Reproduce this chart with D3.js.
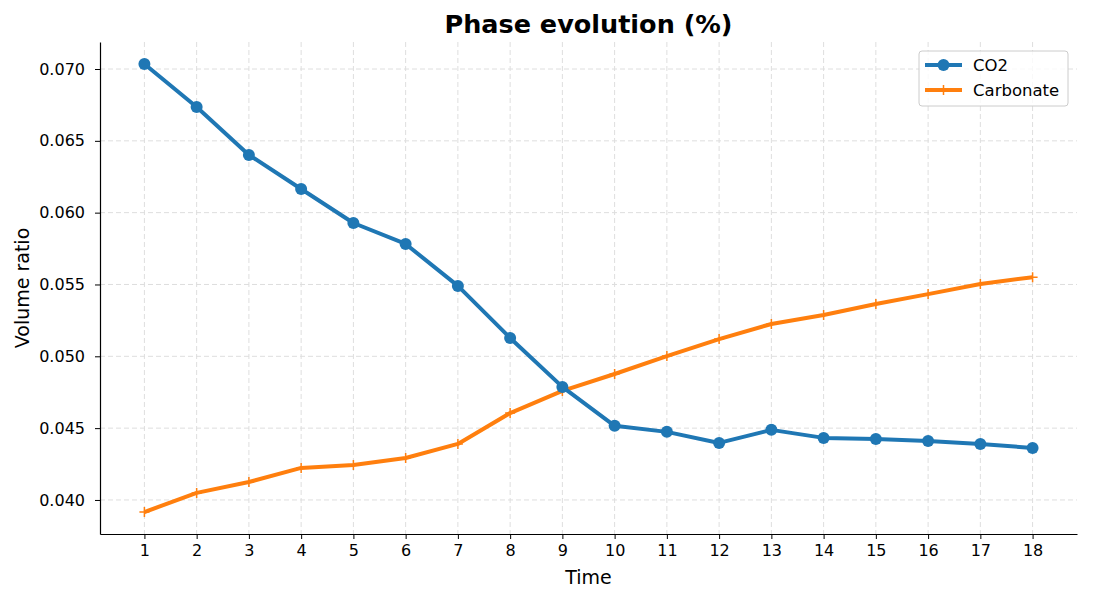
<!DOCTYPE html>
<html>
<head>
<meta charset="utf-8">
<script src="https://cdn.jsdelivr.net/npm/d3@7"></script>
<style>
  body { margin: 0; background: #fff; }
  text { font-family: "DejaVu Sans", sans-serif; }
</style>
</head>
<body>
<div id="chart"></div>
<script>
// Phase evolution line chart

const time = [1,2,3,4,5,6,7,8,9,10,11,12,13,14,15,16,17,18];
const co2 = [0.07035,0.06736,0.06402,0.06165,0.05928,0.05782,0.0549,0.05128,0.04787,
             0.04516,0.04474,0.04397,0.04488,0.04432,0.04425,0.04411,0.0439,0.04362];
const carbonate = [0.03916,0.04049,0.04125,0.04223,0.04244,0.04292,0.0439,0.04605,0.04759,
                   0.04877,0.05002,0.0512,0.05225,0.05287,0.05364,0.05433,0.05503,0.05551];
const yTicks = [0.040,0.045,0.050,0.055,0.060,0.065,0.070];

const width = 1095, height = 601,
      margin = ({top: 42, right: 18, bottom: 67, left: 100});

let svg = d3.select("#chart")
    .append("svg")
    .attr("width", width)
    .attr("height", height);

let x = d3.scaleLinear()
    .domain([0.15, 18.85])
    .range([margin.left, width - margin.right]);

let y = d3.scaleLinear()
    .domain([0.03763, 0.07188])
    .range([height - margin.bottom, margin.top]);

// grid
svg.append("g")
    .selectAll("line")
    .data(time)
    .join("line")
    .attr("x1", d => x(d)).attr("x2", d => x(d))
    .attr("y1", margin.top).attr("y2", height - margin.bottom)
    .attr("stroke", "#dedede").attr("stroke-dasharray", "5,3").attr("stroke-width", 1);

svg.append("g")
    .selectAll("line")
    .data(yTicks)
    .join("line")
    .attr("x1", margin.left).attr("x2", width - margin.right)
    .attr("y1", d => y(d)).attr("y2", d => y(d))
    .attr("stroke", "#dedede").attr("stroke-dasharray", "5,3").attr("stroke-width", 1);

const xAxis = g => g
    .attr("transform", `translate(0,${height - margin.bottom})`)
    .call(d3.axisBottom(x).tickValues(time).tickFormat(d3.format("d")).tickSize(5).tickSizeOuter(0).tickPadding(6));

const yAxis = g => g
    .attr("transform", `translate(${margin.left},0)`)
    .call(d3.axisLeft(y).tickValues(yTicks).tickFormat(d3.format(".3f")).tickSize(5).tickSizeOuter(0).tickPadding(10));

const styleAxis = g => g
    .call(g => g.selectAll("text").attr("font-size", 16).attr("fill", "#000").style("font-family", "DejaVu Sans"))
    .call(g => g.select(".domain").attr("stroke", "#000").attr("stroke-width", 1.2))
    .call(g => g.selectAll(".tick line").attr("stroke", "#000"));

svg.append("g").call(xAxis).call(styleAxis);
svg.append("g").call(yAxis).call(styleAxis);

const line = d3.line()
    .x((d, i) => x(time[i]))
    .y(d => y(d));

// Carbonate
svg.append("path")
    .datum(carbonate)
    .attr("fill", "none")
    .attr("stroke", "#ff7f0e")
    .attr("stroke-width", 4)
    .attr("stroke-linejoin", "round")
    .attr("d", line);

svg.append("g")
    .selectAll("path")
    .data(carbonate)
    .join("path")
    .attr("d", (d, i) => `M${x(time[i]) - 5},${y(d)}h10M${x(time[i])},${y(d) - 5}v10`)
    .attr("stroke", "#ff7f0e")
    .attr("stroke-width", 1.5);

// CO2
svg.append("path")
    .datum(co2)
    .attr("fill", "none")
    .attr("stroke", "#1f77b4")
    .attr("stroke-width", 4)
    .attr("stroke-linejoin", "round")
    .attr("d", line);

svg.append("g")
    .selectAll("circle")
    .data(co2)
    .join("circle")
    .attr("cx", (d, i) => x(time[i]))
    .attr("cy", d => y(d))
    .attr("r", 6)
    .attr("fill", "#1f77b4");

// title + labels
svg.append("text")
    .attr("x", (margin.left + width - margin.right) / 2)
    .attr("y", 33)
    .attr("text-anchor", "middle")
    .attr("font-size", 25.5)
    .attr("font-weight", "bold")
    .text("Phase evolution (%)");

svg.append("text")
    .attr("x", (margin.left + width - margin.right) / 2)
    .attr("y", 584)
    .attr("text-anchor", "middle")
    .attr("font-size", 19)
    .text("Time");

svg.append("text")
    .attr("transform", `translate(29,${(margin.top + height - margin.bottom) / 2}) rotate(-90)`)
    .attr("text-anchor", "middle")
    .attr("font-size", 19)
    .text("Volume ratio");

// legend
const legend = svg.append("g").attr("transform", "translate(919,51)");
legend.append("rect")
    .attr("width", 149).attr("height", 55)
    .attr("rx", 3)
    .attr("fill", "#fff").attr("fill-opacity", 0.8)
    .attr("stroke", "#cccccc");

const items = [
    {name: "CO2", color: "#1f77b4", marker: "circle"},
    {name: "Carbonate", color: "#ff7f0e", marker: "plus"}
];

items.forEach((it, i) => {
    const cy = 14 + i * 25;
    legend.append("line")
        .attr("x1", 6).attr("x2", 43).attr("y1", cy).attr("y2", cy)
        .attr("stroke", it.color).attr("stroke-width", 4);
    if (it.marker === "circle") {
        legend.append("circle").attr("cx", 24.5).attr("cy", cy).attr("r", 6).attr("fill", it.color);
    } else {
        legend.append("path")
            .attr("d", `M19.5,${cy}h10M24.5,${cy - 5}v10`)
            .attr("stroke", it.color).attr("stroke-width", 1.5);
    }
    legend.append("text")
        .attr("x", 54).attr("y", cy + 6)
        .attr("font-size", 16.5)
        .text(it.name);
});
</script>
</body>
</html>
